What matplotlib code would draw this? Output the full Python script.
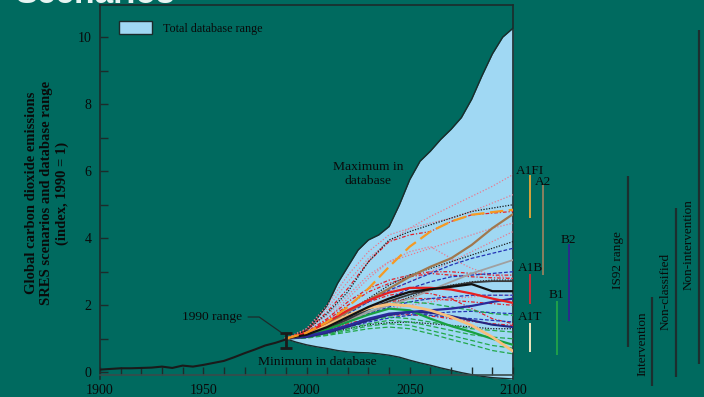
import matplotlib
matplotlib.use("Agg")
import matplotlib.pyplot as plt
from matplotlib.patches import Patch
from matplotlib.ticker import MultipleLocator

BG = "#006a5f"
FILL = "#a0d8f3"
DARK = "#1c2b2b"
SERIF = ["Liberation Serif", "DejaVu Serif"]

# ---- historical emissions index (1990 = 1) ----
hist_years = [1900, 1905, 1910, 1915, 1920, 1925, 1930, 1935, 1940, 1945, 1950,
              1955, 1960, 1965, 1970, 1975, 1980, 1985, 1990]
hist_index = [0.08, 0.10, 0.12, 0.12, 0.13, 0.14, 0.17, 0.13, 0.20, 0.17, 0.22,
              0.28, 0.34, 0.45, 0.57, 0.68, 0.80, 0.88, 0.98]

range_1990 = [0.72, 1.18]

# ---- database envelope ----
env_years = [1990, 1995, 2000, 2005, 2010, 2015, 2020, 2025, 2030, 2035, 2040,
             2045, 2050, 2055, 2060, 2065, 2070, 2075, 2080, 2085, 2090, 2095, 2100]
db_max = [1.0, 1.08, 1.25, 1.6, 2.0, 2.65, 3.15, 3.65, 3.95, 4.1, 4.35,
          5.0, 5.75, 6.3, 6.6, 6.95, 7.25, 7.6, 8.15, 8.85, 9.5, 10.0, 10.27]
db_min = [1.0, 0.9, 0.82, 0.76, 0.71, 0.65, 0.61, 0.59, 0.58, 0.55, 0.51,
          0.45, 0.36, 0.28, 0.21, 0.13, 0.06, -0.01, -0.07, -0.12, -0.16, -0.18, -0.2]

# ---- SRES scenario trajectories ----
years = [1990, 2000, 2010, 2020, 2030, 2040, 2050, 2060, 2070, 2080, 2090, 2100]

a1fi_marker = [1.0, 1.18, 1.5, 1.95, 2.5, 3.15, 3.75, 4.2, 4.5, 4.7, 4.78, 4.85]
a2_marker = [1.0, 1.15, 1.45, 1.8, 2.15, 2.5, 2.85, 3.15, 3.4, 3.8, 4.3, 4.72]
a2_other = [1.0, 1.1, 1.3, 1.55, 1.8, 2.0, 2.2, 2.45, 2.7, 2.95, 3.15, 3.35]
a1b_marker = [1.0, 1.17, 1.5, 1.85, 2.15, 2.38, 2.52, 2.52, 2.47, 2.35, 2.2, 2.07]
a1_black = [1.0, 1.12, 1.35, 1.65, 1.95, 2.2, 2.4, 2.48, 2.55, 2.63, 2.42, 2.42]
a1_gray = [1.0, 1.1, 1.3, 1.58, 1.88, 2.12, 2.32, 2.48, 2.58, 2.68, 2.72, 2.72]
b2_marker = [1.0, 1.08, 1.22, 1.4, 1.6, 1.75, 1.8, 1.85, 1.9, 1.98, 2.1, 2.2]
b2_navy = [1.0, 1.05, 1.18, 1.36, 1.55, 1.72, 1.8, 1.78, 1.68, 1.55, 1.42, 1.35]
a1t_marker = [1.0, 1.15, 1.4, 1.7, 1.92, 2.03, 1.98, 1.85, 1.65, 1.4, 1.05, 0.63]
b1_marker = [1.0, 1.1, 1.28, 1.5, 1.72, 1.9, 1.85, 1.6, 1.38, 1.2, 1.0, 0.82]

pink_dotted = [
    [1.0, 1.3, 1.9, 2.7, 3.4, 3.9, 4.3, 4.65, 4.95, 5.25, 5.55, 5.9],
    [1.0, 1.3, 2.0, 2.9, 3.6, 4.1, 4.3, 4.45, 4.6, 4.8, 5.05, 5.3],
    [1.0, 1.2, 1.6, 2.2, 2.8, 3.3, 3.6, 3.75, 3.4, 3.1, 2.9, 2.8],
    [1.0, 1.15, 1.45, 1.8, 2.1, 2.4, 2.7, 3.0, 3.3, 3.6, 3.9, 4.2],
    [1.0, 1.1, 1.3, 1.55, 1.75, 1.9, 2.0, 2.1, 2.2, 2.25, 2.3, 2.3],
    [1.0, 1.25, 1.7, 2.3, 2.9, 3.3, 3.5, 3.7, 3.9, 4.1, 4.3, 4.45],
]
red_dashdot = [
    [1.0, 1.25, 1.8, 2.5, 3.3, 3.9, 4.1, 4.2, 4.5, 4.7, 4.75, 4.8],
    [1.0, 1.2, 1.6, 2.1, 2.5, 2.75, 2.9, 3.0, 3.0, 2.95, 2.9, 2.9],
    [1.0, 1.15, 1.45, 1.8, 2.1, 2.3, 2.4, 2.35, 2.2, 1.9, 1.6, 1.45],
    [1.0, 1.1, 1.35, 1.65, 1.9, 2.1, 2.2, 2.2, 2.15, 2.1, 2.05, 2.0],
    [1.0, 1.08, 1.25, 1.45, 1.6, 1.7, 1.72, 1.68, 1.6, 1.52, 1.45, 1.4],
    [1.0, 1.18, 1.55, 2.0, 2.4, 2.65, 2.85, 2.95, 2.9, 2.85, 2.82, 2.8],
]
black_dotted = [
    [1.0, 1.25, 1.75, 2.4, 3.3, 3.95, 4.2, 4.4, 4.6, 4.8, 4.9, 5.0],
    [1.0, 1.15, 1.45, 1.8, 2.2, 2.6, 2.9, 3.1, 3.3, 3.5, 3.7, 3.9],
    [1.0, 1.05, 1.15, 1.3, 1.42, 1.48, 1.5, 1.45, 1.4, 1.35, 1.3, 1.3],
    [1.0, 1.1, 1.3, 1.55, 1.8, 2.0, 2.25, 2.45, 2.6, 2.7, 2.75, 2.75],
]
blue_dashed = [
    [1.0, 1.12, 1.4, 1.75, 2.1, 2.45, 2.7, 2.95, 3.2, 3.4, 3.55, 3.7],
    [1.0, 1.1, 1.3, 1.6, 1.9, 2.2, 2.5, 2.7, 2.85, 2.9, 2.95, 3.0],
    [1.0, 1.08, 1.25, 1.5, 1.75, 1.95, 2.1, 2.2, 2.25, 2.3, 2.3, 2.3],
    [1.0, 1.05, 1.2, 1.4, 1.6, 1.7, 1.75, 1.7, 1.65, 1.6, 1.55, 1.5],
    [1.0, 1.08, 1.2, 1.35, 1.5, 1.62, 1.7, 1.75, 1.8, 1.82, 1.78, 1.75],
]
green_dashed = [
    [1.0, 1.1, 1.35, 1.65, 1.9, 2.05, 2.1, 2.05, 1.95, 1.85, 1.75, 1.7],
    [1.0, 1.05, 1.2, 1.4, 1.55, 1.65, 1.6, 1.5, 1.4, 1.3, 1.25, 1.2],
    [1.0, 1.05, 1.15, 1.3, 1.45, 1.55, 1.5, 1.38, 1.25, 1.12, 1.05, 1.0],
    [1.0, 1.03, 1.12, 1.25, 1.38, 1.45, 1.4, 1.25, 1.1, 0.95, 0.8, 0.72],
    [1.0, 1.02, 1.1, 1.2, 1.3, 1.35, 1.3, 1.15, 0.98, 0.82, 0.65, 0.55],
]

# ---- scenario family ranges in 2100 ----
family_names = ["A1FI", "A2", "B2", "A1B", "B1", "A1T"]
family_low = [4.6, 2.9, 1.52, 2.03, 0.51, 0.6]
family_high = [5.9, 5.58, 3.82, 2.93, 2.12, 1.46]
family_colors = ["#d9a23a", "#8a8060", "#2b2b8c", "#c8303a", "#1fa04a", "#f2e6bf"]
family_xpos = [17, 30, 56, 17, 44, 17]          # column offsets right of the plot (px)
family_label_x = [17, 30, 55, 17, 43, 17]
family_label_y = [6.0, 5.68, 3.95, 3.1, 2.3, 1.66]

# ---- literature ranges ----
lit_names = ["IS92 range", "Intervention", "Non-classified", "Non-intervention"]
lit_low = [0.75, -0.42, -0.15, 0.24]
lit_high = [5.85, 2.24, 4.9, 10.2]
lit_xpos = [115, 139, 163, 186]
lit_label_y = [3.35, 0.85, 2.4, 3.8]

W, H = 704, 397
fig = plt.figure(figsize=(W / 100, H / 100), dpi=100, facecolor=BG)

y_top, y_bot = 10.96, -0.2
ax_l, ax_r, ax_t, ax_b = 100, 513, 5, 379
ax = fig.add_axes([ax_l / W, 1 - ax_b / H, (ax_r - ax_l) / W, (ax_b - ax_t) / H])
ax.set_facecolor(BG)
ax.set_xlim(1900, 2100)
ax.set_ylim(y_bot, y_top)

# envelope of the database
ax.fill_between(env_years, db_min, db_max, color=FILL, zorder=1, lw=0)
ax.plot(env_years, db_max, color=DARK, lw=1.0, zorder=2)
ax.plot(env_years, db_min, color=DARK, lw=1.0, zorder=2)

# background scenarios
for s in pink_dotted:
    ax.plot(years, s, color="#e87a90", lw=0.9, ls=(0, (1, 1.5)), zorder=3)
for s in red_dashdot:
    ax.plot(years, s, color="#e3202a", lw=0.9, ls=(0, (3, 1.5, 1, 1.5)), zorder=3)
for s in black_dotted:
    ax.plot(years, s, color="#1a1a1a", lw=0.9, ls=(0, (1, 1.2)), zorder=3)
for s in blue_dashed:
    ax.plot(years, s, color="#2434b4", lw=0.9, ls=(0, (3, 1.5)), zorder=3)
for s in green_dashed:
    ax.plot(years, s, color="#22a84a", lw=0.9, ls=(0, (4, 2)), zorder=3)

# marker / illustrative scenarios
ax.plot(years, a2_other, color="#a0a0a0", lw=1.3, zorder=4)
ax.plot(years, a2_marker, color="#a0784e", lw=1.6, zorder=4)
ax.plot(years, a1_gray, color="#3a3a3a", lw=1.3, zorder=4)
ax.plot(years, b2_navy, color="#252580", lw=1.5, zorder=4)
ax.plot(years, b1_marker, color="#18a040", lw=1.6, zorder=4)
ax.plot(years, b2_marker, color="#2a2a9a", lw=1.6, zorder=4)
ax.plot(years, a1t_marker, color="#f8bf7c", lw=2.0, zorder=5)
ax.plot(years, a1b_marker, color="#e82020", lw=1.6, zorder=5)
ax.plot(years, a1_black, color="#111111", lw=1.6, zorder=5)
ax.plot(years, a1fi_marker, color="#f59a23", lw=1.6, ls=(0, (6, 2.5)), zorder=5)

# history and 1990 range
ax.plot(hist_years, hist_index, color="#1a1a1a", lw=1.5, zorder=6)
ax.errorbar([1990], [sum(range_1990) / 2],
            yerr=[[sum(range_1990) / 2 - range_1990[0]], [range_1990[1] - sum(range_1990) / 2]],
            fmt="none", ecolor="#1a1a1a", elinewidth=2.0, capsize=4, capthick=2.0, zorder=7)

# annotations
txt = dict(family=SERIF, fontsize=9.7, color="#0a0a0a")
ax.annotate("1990 range", xy=(1987.5, 1.2), xytext=(1969, 1.65),
            ha="right", va="center", **txt,
            arrowprops=dict(arrowstyle="-", color=DARK, lw=0.9,
                            connectionstyle="angle,angleA=0,angleB=-35,rad=0",
                            shrinkA=2, shrinkB=0))
ax.text(2030, 5.92, "Maximum in\ndatabase", ha="center", va="center", linespacing=1.3, **txt)
ax.text(2005, 0.3, "Minimum in database", ha="center", va="center", **txt)

# axes styling
for side in ("left", "right", "top", "bottom"):
    ax.spines[side].set_color(DARK)
    ax.spines[side].set_linewidth(1.2)
ax.spines["bottom"].set_position(("data", -0.09))
ax.spines["bottom"].set_color("#3a4a4a")
ax.xaxis.set_major_locator(MultipleLocator(50))
ax.xaxis.set_minor_locator(MultipleLocator(10))
ax.yaxis.set_major_locator(MultipleLocator(2))
ax.yaxis.set_minor_locator(MultipleLocator(1))
ax.tick_params(which="both", direction="in", color=DARK, width=1.0, length=6,
               labelsize=10, labelcolor="#0a0a0a")
ax.tick_params(axis="x", which="both", pad=6)
ax.tick_params(axis="y", which="both", pad=6)
for lab in ax.get_xticklabels() + ax.get_yticklabels():
    lab.set_family(SERIF)
ax.set_yticks([0, 2, 4, 6, 8, 10])
ax.set_yticklabels(["0", "2", "4", "6", "8", "10"], family=SERIF)

leg = ax.legend(handles=[Patch(facecolor=FILL, edgecolor=DARK, lw=1.0, label="Total database range")],
                loc="upper left", bbox_to_anchor=(0.02, 0.985), frameon=False,
                handlelength=2.7, handleheight=1.2, handletextpad=0.9,
                prop={"family": SERIF, "size": 8.7})
for t in leg.get_texts():
    t.set_color("#0a0a0a")

# right-hand panel with family and literature ranges
rx = fig.add_axes([ax_r / W, 1 - ax_b / H, (W - ax_r) / W, (ax_b - ax_t) / H])
rx.set_xlim(0, W - ax_r)
rx.set_ylim(y_bot, y_top)
rx.axis("off")
rx.patch.set_alpha(0)
for name, lo, hi, c, xp, lx, ly in zip(family_names, family_low, family_high, family_colors,
                                      family_xpos, family_label_x, family_label_y):
    rx.vlines(xp, lo, hi, color=c, lw=1.4, clip_on=False)
    rx.text(lx, ly, name, ha="center", va="center", family=SERIF, fontsize=9.5, color="#0a0a0a")
for name, lo, hi, xp, ly in zip(lit_names, lit_low, lit_high, lit_xpos, lit_label_y):
    rx.vlines(xp, lo, hi, color="#1c2e2e", lw=1.6, clip_on=False)
    rx.text(xp - 10, ly, name, ha="center", va="center", rotation=90,
            family=SERIF, fontsize=9.5, color="#0a0a0a")

# y-axis title
fig.text(47 / W, 1 - 193 / H,
         "Global carbon dioxide emissions\nSRES scenarios and database range\n(index, 1990 = 1)",
         rotation=90, ha="center", va="center", multialignment="center",
         family=SERIF, fontweight="bold", fontsize=10.5, linespacing=1.25, color="#0a0a0a")

# slide heading, running off the top edge
fig.text(15 / W, 1 - 3 / H, "Scenarios", ha="left", va="baseline",
         fontsize=24, fontweight="bold", color="#e8f4f2", family=["Liberation Sans", "DejaVu Sans"])

fig.savefig("out.png", dpi=100, facecolor=BG)
